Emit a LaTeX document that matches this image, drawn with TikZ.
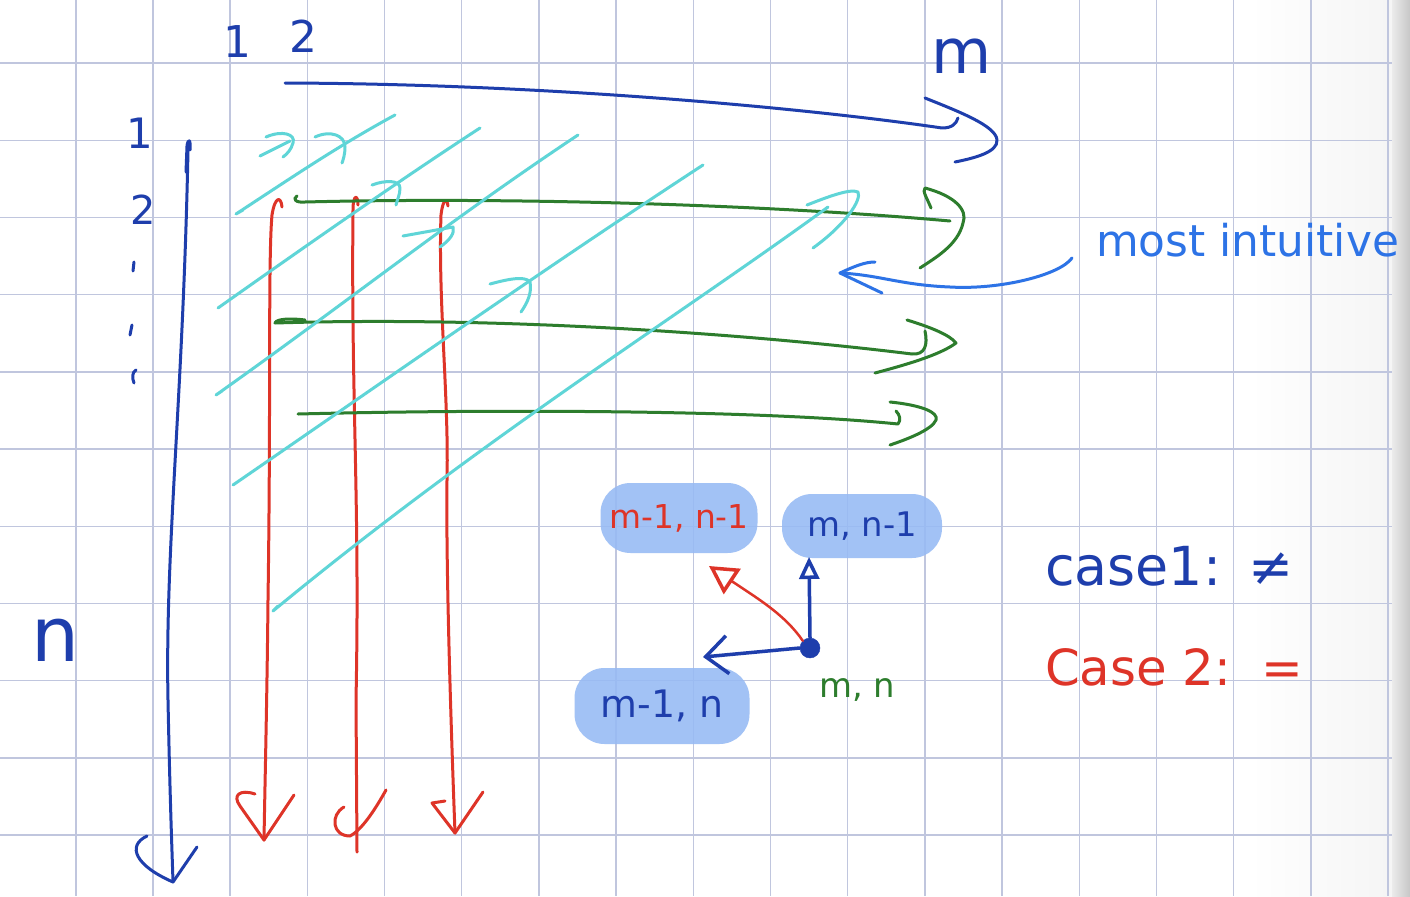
\documentclass[tikz,border=0pt]{standalone}
\usepackage{fontspec}
\setmainfont{DejaVu Sans}
\usetikzlibrary{arrows.meta}
\definecolor{gridc}{RGB}{192,198,222}
\definecolor{inkblue}{RGB}{30,62,172}
\definecolor{brightblue}{RGB}{45,115,230}
\definecolor{inkgreen}{RGB}{45,125,45}
\definecolor{inkred}{RGB}{222,52,40}
\definecolor{inkcyan}{RGB}{95,213,215}
\definecolor{blobc}{RGB}{150,186,244}
\newcommand\fsz[1]{\fontsize{#1}{#1}\selectfont}
\tikzset{
  ink/.style={line width=3bp, line cap=round, line join=round},
  blueink/.style={ink, draw=inkblue},
  bblueink/.style={ink, draw=brightblue},
  greenink/.style={ink, draw=inkgreen},
  redink/.style={ink, draw=inkred},
  cyanink/.style={ink, draw=inkcyan},
  gridline/.style={draw=gridc, line width=1.4bp},
  lbl/.style={inner sep=0pt},
  blob/.style={fill=blobc, fill opacity=0.88, text opacity=1, rounded corners=30bp, inner sep=0pt}
}
\begin{document}
\begin{tikzpicture}[x=1bp,y=-1bp]
\useasboundingbox (0,0) rectangle (1410,896);
\fill[white] (0,0) rectangle (1410,896);
\shade[left color=white, right color=black!4] (1250,0) rectangle (1392,896);
\shade[left color=black!8, right color=black!22] (1392,0) rectangle (1410,896);
% grid
\foreach \i in {-1,...,16} { \draw[gridline] ({153+77.19*\i},0) -- ({153+77.19*\i},896); }
\foreach \j in {0,...,10} { \draw[gridline] (0,{63+77.2*\j}) -- (1392,{63+77.2*\j}); }

% ---------- axis labels ----------
\node[lbl, text=inkblue, font=\fsz{44}] (c1) at (237,42) {1};
\node[lbl, text=inkblue, font=\fsz{44}] (c2) at (303,36) {2};
\node[lbl, text=inkblue, font=\fsz{62}] (cm) at (962,56) {m};
\node[lbl, text=inkblue, font=\fsz{42}] (r1) at (140,133) {1};
\node[lbl, text=inkblue, font=\fsz{40}] (r2) at (143,210) {2};
\node[lbl, text=inkblue, font=\fsz{76}] (rn) at (55,640) {n};
\draw[blueink] (134,262) -- (133,271);
\draw[blueink] (132,325) -- (130,335);
\draw[blueink] (136,370) .. controls (132,372) and (132,378) .. (134,383);

% ---------- top blue arrow (columns) ----------
\coordinate (ts) at (285,83);
\coordinate (te) at (942,128);
\coordinate (tt) at (997,140);
\draw[blueink] (ts) .. controls (560,84) and (820,110) .. (te) .. controls (952,128) and (956,124) .. (958,118);
\draw[blueink] (925,98) .. controls (960,112) and (996,126) .. (tt) .. controls (998,152) and (975,158) .. (955,162);

% ---------- left blue arrow (rows) ----------
\coordinate (ls) at (188,150);
\coordinate (lt) at (173,882);
\draw[blueink] (186,172) -- (187,146) .. controls (188,138) and (191,139) .. (190,150);
\draw[blueink] (ls) .. controls (183,400) and (165,550) .. (168,700) .. controls (170,800) and (172,850) .. (lt);
\draw[blueink] (147,836) .. controls (126,846) and (136,866) .. (lt) -- (197,847);

% ---------- red vertical arrows ----------
\coordinate (ra) at (264,840);
\coordinate (rb) at (357,852);
\coordinate (rc) at (455,833);
\draw[redink] (282,207) .. controls (281,196) and (275,196) .. (272,215) .. controls (268,260) and (271,400) .. (268,600) .. controls (267,700) and (265,780) .. (ra);
\draw[redink] (255,794) .. controls (240,789) and (232,795) .. (240,806) -- (ra) -- (294,795);
\draw[redink] (358,205) .. controls (358,194) and (353,194) .. (353,210) .. controls (351,400) and (360,500) .. (356,700) -- (rb);
\draw[redink] (344,807) .. controls (330,815) and (332,836) .. (350,836) .. controls (362,830) and (376,808) .. (386,790);
\draw[redink] (448,206) .. controls (447,198) and (443,198) .. (441,215) .. controls (438,300) and (449,400) .. (447,480) .. controls (446,560) and (450,700) .. (rc);
\draw[redink] (445,801) -- (432,803) -- (rc) -- (483,792);

% ---------- green horizontal arrows ----------
\coordinate (ga) at (963,223);
\coordinate (gb) at (956,343);
\coordinate (gc) at (936,420);
\draw[greenink] (297,196) .. controls (292,199) and (296,203) .. (305,202) .. controls (500,197) and (760,204) .. (950,221);
\draw[greenink] (931,208) .. controls (927,198) and (922,191) .. (925,188) .. controls (955,196) and (968,210) .. (ga) .. controls (958,245) and (935,258) .. (920,268);
\draw[greenink] (305,320) .. controls (290,318) and (276,319) .. (275,323) .. controls (500,316) and (750,334) .. (912,354) .. controls (925,355) and (928,345) .. (925,331);
\draw[greenink] (907,320) .. controls (930,327) and (950,335) .. (gb) .. controls (940,355) and (905,365) .. (875,373);
\draw[greenink] (298,414) .. controls (500,409) and (760,410) .. (898,424) .. controls (901,420) and (900,415) .. (896,411);
\draw[greenink] (890,402) .. controls (920,405) and (939,412) .. (gc) .. controls (932,430) and (905,440) .. (890,445);

% ---------- cyan diagonals ----------
\draw[cyanink] (260,156) -- (290,141);
\draw[cyanink] (266,137) .. controls (282,130) and (296,134) .. (293,143) .. controls (291,150) and (287,154) .. (283,157);
\draw[cyanink] (315,137) .. controls (330,130) and (345,135) .. (345,147) .. controls (345,155) and (343,160) .. (342,163);
\draw[cyanink] (243,210) -- (236,214) .. controls (300,172) and (340,145) .. (395,115);
\draw[cyanink] (372,185) .. controls (385,180) and (400,180) .. (400,188) .. controls (400,195) and (397,200) .. (396,205);
\draw[cyanink] (218,308) .. controls (300,250) and (400,180) .. (480,128);
\draw[cyanink] (222,391) -- (216,395) .. controls (350,300) and (450,220) .. (578,135);
\draw[cyanink] (403,236) -- (453,227) .. controls (455,233) and (450,240) .. (440,247);
\draw[cyanink] (233,485) .. controls (400,370) and (550,265) .. (703,165);
\draw[cyanink] (490,284) .. controls (505,280) and (525,275) .. (530,282) .. controls (532,292) and (528,302) .. (521,312);
\draw[cyanink] (278,606) -- (273,611) .. controls (480,440) and (680,315) .. (828,207);
\draw[cyanink] (807,205) .. controls (825,198) and (850,188) .. (858,192) .. controls (862,200) and (845,225) .. (813,248);

% ---------- most intuitive ----------
\node[lbl, anchor=base west, text=brightblue, font=\fsz{44}] (mi) at (1096,256) {most intuitive};
\coordinate (pt) at (840,273);
\draw[bblueink] (1072,258) .. controls (1060,275) and (1000,290) .. (950,287) .. controls (900,285) and (880,275) .. (pt);
\draw[bblueink] (875,262) .. controls (865,262) and (855,266) .. (pt) -- (882,293);

% ---------- recurrence sketch ----------
\node[blob, minimum width=157bp, minimum height=70bp, text=inkred, font=\fsz{33}] (n1) at (679,518) {m-1, n-1};
\node[blob, minimum width=160bp, minimum height=64bp, text=inkblue, font=\fsz{34}] (n2) at (862,526) {m, n-1};
\node[blob, minimum width=175bp, minimum height=76bp, text=inkblue, font=\fsz{38}] (n3) at (662,706) {m-1, n};
\node[lbl, text=inkgreen, font=\fsz{34}] (n4) at (857,690) {m, n};
\node[circle, fill=inkblue, draw=inkblue, minimum size=20bp, inner sep=0pt] (mn) at (810,648) {};
\coordinate (upE) at (809,557);
\coordinate (leftE) at (703,657);
\coordinate (redE) at (709,566);
\draw[blueink, line width=3.5bp, -{Triangle[open, length=22bp, width=20bp]}] (mn.north) -- (upE);
\draw[blueink, line width=3.5bp, -{Straight Barb[length=22bp, width=38bp]}] (mn.west) -- (leftE);
\draw[redink, line width=2.5bp, -{Triangle[open, length=28bp, width=30bp, line width=3.5bp]}] (mn.north west) .. controls (785,615) and (760,600) .. (redE);

% ---------- cases ----------
\node[lbl, anchor=base west, text=inkblue, font=\fsz{54}] (k1) at (1045,585) {case1:\hspace{0.5em}≠};
\node[lbl, anchor=base west, text=inkred, font=\fsz{50}] (k2) at (1045,685) {Case 2:\hspace{0.6em}=};
\end{tikzpicture}
\end{document}
